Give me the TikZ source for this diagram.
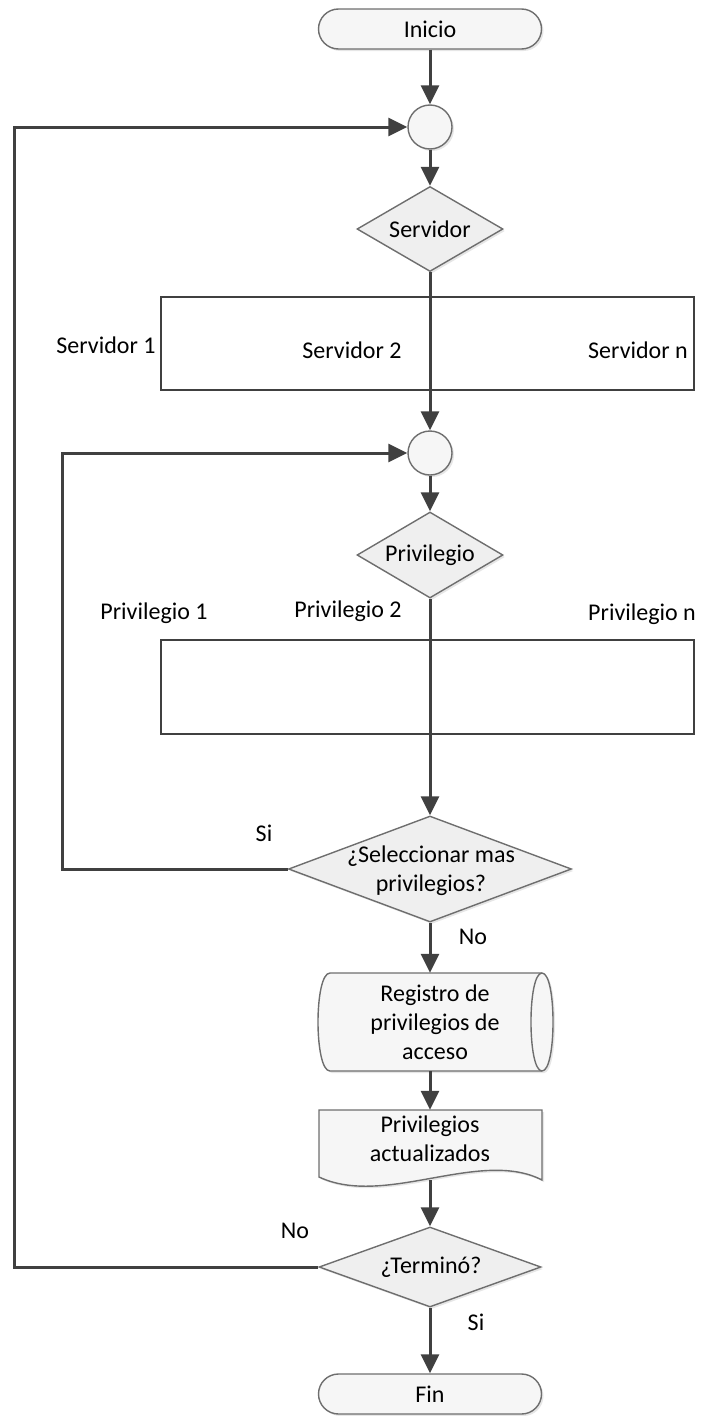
\documentclass[tikz,border=0pt]{standalone}
\usepackage{fontspec}
\setmainfont{Carlito}
\usetikzlibrary{arrows.meta,shapes.geometric,shadows}
\definecolor{lineC}{HTML}{404040}
\definecolor{borderC}{HTML}{6E6E6E}
\definecolor{fillC}{HTML}{F6F6F6}
\definecolor{diaC}{HTML}{EFEFEF}
\begin{document}
\begin{tikzpicture}[x=1pt,y=-1pt,
  font=\fontsize{24}{29}\selectfont,
  line/.style={draw=lineC, line width=3pt},
  arr/.style={line, -{Triangle[length=19pt,width=18pt]}},
  shd/.style={drop shadow={shadow xshift=2pt, shadow yshift=-2pt, opacity=0.2, fill=black!50}},
  shp/.style={draw=borderC, line width=1.4pt, fill=fillC, shd},
  term/.style={shp, rectangle, rounded corners=20pt, minimum width=223pt, minimum height=40pt, inner sep=0pt},
  conn/.style={shp, circle, minimum size=44pt, inner sep=0pt},
  dia/.style={shp, diamond, fill=diaC, inner sep=0pt},
  box/.style={rectangle, draw=lineC, line width=1.8pt, fill=white, minimum width=533pt},
  txt/.style={inner sep=0pt, align=center},
  ghost/.style={rectangle, inner sep=0pt, align=center}
]
\useasboundingbox (0,0) rectangle (703,1416);

% terminals and connectors
\node[term] (ini) at (430,29) {Inicio};
\node[conn] (c1) at (430,127) {};
\node[dia, minimum width=146pt, minimum height=85pt] (dserv) at (430,229) {};
\node[txt] (tserv) at (430,229) {Servidor};

\node[box, minimum height=93pt] (rserv) at (427.5,343.5) {};
\node[txt] (s1) at (106,345) {Servidor 1};
\node[txt] (s2) at (352,350) {Servidor 2};
\node[txt] (sn) at (638,350) {Servidor n};

\node[conn] (c2) at (430,453) {};
\node[dia, minimum width=146pt, minimum height=86pt] (dpriv) at (430,555) {};
\node[txt] (tpriv) at (430,555) {Privilegio};

\node[txt] (p1) at (154,613) {Privilegio 1};
\node[txt] (p2) at (348,611) {Privilegio 2};
\node[txt] (pn) at (642,614) {Privilegio n};
\node[box, minimum height=94pt] (rpriv) at (427.5,687) {};

\node[dia, minimum width=283pt, minimum height=106pt] (dsel) at (430,869) {};
\node[txt] (tsel) at (431,871) {¿Seleccionar mas\\privilegios?};
\node[txt] (si1) at (264,833) {Si};
\node[txt] (no1) at (473,937) {No};

% stored data (horizontal cylinder)
\path[shp] (330,973) -- (542,973) .. controls (556.7,973) and (556.7,1071) .. (542,1071)
  -- (330,1071) .. controls (314,1071) and (314,973) .. (330,973) -- cycle;
\draw[draw=borderC, line width=1.4pt] (542,973) .. controls (527.3,973) and (527.3,1071) .. (542,1071);
\node[ghost, minimum width=235pt, minimum height=98pt] (reg) at (435,1022) {Registro de\\privilegios de\\acceso};

% document
\path[shp] (319,1110) -- (542,1110) -- (542,1180) .. controls (480,1148) and (385,1208) .. (319,1177) -- cycle;
\node[ghost, minimum width=223pt, minimum height=58pt] (doc) at (430,1139) {Privilegios\\actualizados};
\coordinate (docbot) at (430,1180);

\node[dia, minimum width=222pt, minimum height=80pt] (dterm) at (430,1267) {};
\node[txt] (tterm) at (431,1267) {¿Terminó?};
\node[txt] (no2) at (295,1231) {No};
\node[txt] (si2) at (476,1322) {Si};

\node[term] (fin) at (430,1394) {Fin};

% connectors
\coordinate (l1) at (14,127);
\coordinate (l2) at (62,453);
\draw[arr] (ini) -- (c1);
\draw[arr] (c1) -- (dserv);
\draw[arr] (dserv) -- (c2);
\draw[arr] (c2) -- (dpriv);
\draw[arr] (dpriv) -- (dsel);
\draw[arr] (dsel.south) -- (dsel.south |- reg.north);
\draw[arr] (reg.south -| doc) -- (doc.north);
\draw[arr] (docbot) -- (dterm.north);
\draw[arr] (dterm) -- (fin);
\draw[arr] (dsel.west) -| (l2) -- (c2);
\draw[arr] (dterm.west) -| (l1) -- (c1);
\end{tikzpicture}
\end{document}
